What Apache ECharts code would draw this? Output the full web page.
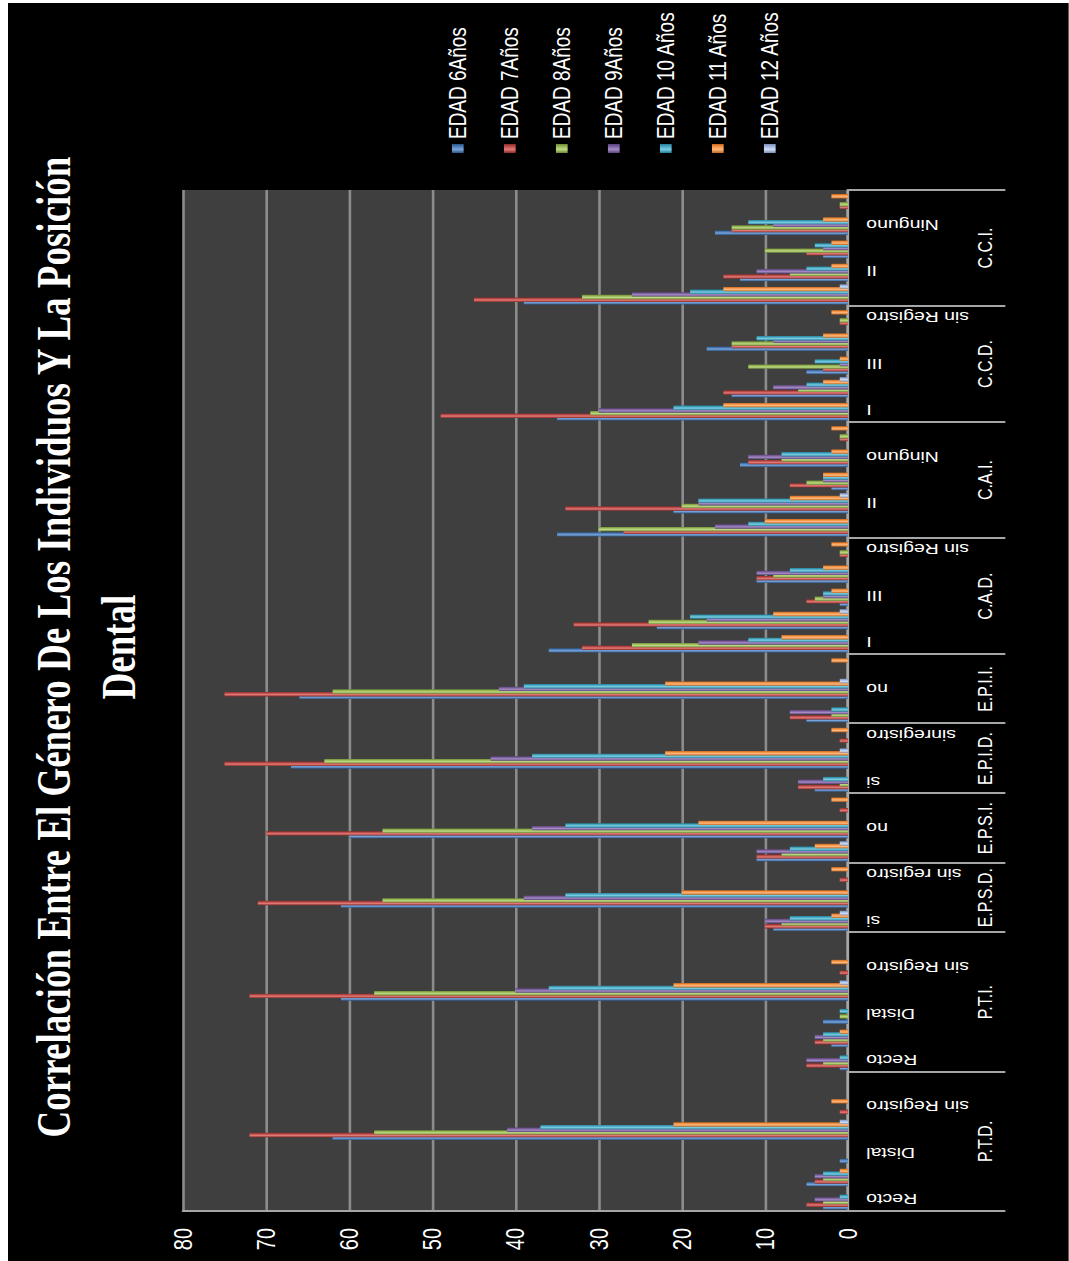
<!DOCTYPE html>
<html><head><meta charset="utf-8">
<script src="https://cdn.jsdelivr.net/npm/echarts@6/dist/echarts.min.js"></script>
<style>
html,body{margin:0;padding:0;background:#fff;width:1069px;height:1261px;overflow:hidden;}
#chart{position:absolute;left:0;top:0;width:1258px;height:816px;transform-origin:0 0;transform:matrix(0,-1,1.3,0,8,1261);}
</style></head><body><div id="chart"></div>
<script>
// Inner categories (44), grouped
const categories = [
  'Recto','Mesial','Distal','Ninguno','sin Registro','Otro',
  'Recto','Mesial','Distal','Ninguno','sin Registro','Otro',
  'si','no','sin registro',
  'si','no','sin registro',
  'si','no','sinregistro',
  'si','no','sin registro',
  'I','II','III','Ninguno','sin Registro',
  'I','II','III','Ninguno','sin Registro',
  'I','II','III','Ninguno','sin Registro',
  'I','II','III','Ninguno','sin Registro'
];
const groups = ['P.T.D.','P.T.I.','E.P.S.D.','E.P.S.I.','E.P.I.D.','E.P.I.I.','C.A.D.','C.A.I.','C.C.D.','C.C.I.'];
const groupSizes = [6,6,3,3,3,3,5,5,5,5];
const seriesNames = ['EDAD 6Años','EDAD 7Años','EDAD 8Años','EDAD 9Años','EDAD 10 Años','EDAD 11 Años','EDAD 12 Años'];
const valueTicks = {min:0, max:80, interval:10};

const edad6  = [3,5,1,62,0,0, 1,2,3,61,0,0, 9,61,0, 11,60,0, 4,67,0, 5,66,0, 36,23,1,11,0, 35,21,2,13,0, 35,14,5,17,0, 39,13,3,16,0];
const edad7  = [5,4,0,72,1,0, 5,4,0,72,1,0, 10,71,1, 11,70,1, 6,75,1, 7,75,0, 32,33,5,11,1, 27,34,7,12,1, 49,15,3,14,1, 45,15,5,14,1];
const edad8  = [3,3,0,57,0,0, 3,3,1,57,0,0, 8,56,0, 8,56,0, 1,63,0, 2,62,0, 26,24,4,9,1, 30,20,5,8,1, 31,6,12,14,1, 32,7,10,14,1];
const edad9  = [4,4,0,41,0,0, 5,4,0,40,0,0, 10,39,0, 11,38,0, 6,43,0, 7,42,0, 18,17,3,11,0, 16,18,3,12,0, 30,9,1,9,0, 26,11,3,9,0];
const edad10 = [1,3,0,37,0,0, 1,3,1,36,0,0, 7,34,0, 7,34,0, 3,38,0, 2,39,0, 12,19,3,7,0, 12,18,3,8,0, 21,5,4,11,0, 19,5,4,12,0];
const edad11 = [0,1,0,21,2,0, 0,1,0,21,2,0, 2,20,2, 4,18,2, 0,22,2, 0,22,2, 8,9,2,3,2, 10,7,3,2,2, 15,3,1,3,2, 15,2,2,3,2];
const edad12 = [0,0,0,1,0,0, 0,0,0,1,0,0, 1,0,0, 1,0,0, 0,1,0, 0,1,0, 0,1,0,0,0, 0,1,0,0,0, 0,1,0,0,0, 1,0,0,0,0];
const seriesData = [edad6, edad7, edad8, edad9, edad10, edad11, edad12];

const palette = [
  ['#2c5486','#7aa3d6','#4f81bd'],
  ['#8c2b28','#e07a77','#c0504d'],
  ['#6e8a33','#bcd884','#9bbb59'],
  ['#5b4279','#a48cc3','#8064a2'],
  ['#23809a','#7acbe0','#4bacc6'],
  ['#c4661c','#fbb77e','#f79646'],
  ['#7b8fb8','#cfdcf2','#a5b8e0']
];

// outer (group) axis built from groups: half-step positions
const boundaries = new Set(), centers = new Map();
let start = 0; boundaries.add(0);
groups.forEach((g,i)=>{ centers.set(2*start+groupSizes[i], g); start += groupSizes[i]; boundaries.add(2*start); });
const outerData = [];
for (let k=0;k<=2*start;k++) outerData.push(centers.has(k) ? centers.get(k) : '#' + k);

const chart = echarts.init(document.getElementById('chart'), null, {renderer:'svg'});
chart.setOption({
  animation:false,
  backgroundColor:'#000',
  title:{
    text:'Correlación Entre El Género De Los Individuos Y La Posición\nDental',
    left:614, top:10, padding:0, textAlign:'center',
    textStyle:{color:'#fff', fontFamily:'Liberation Serif', fontWeight:'bold', fontSize:37, lineHeight:50}
  },
  legend:{
    orient:'vertical', left:1103, top:331, itemWidth:9, itemHeight:9, itemGap:20, icon:'rect',
    textStyle:{color:'#fff', fontSize:19, fontFamily:'Liberation Sans', lineHeight:20},
    data:seriesNames
  },
  grid:{left:50, right:187, top:134.6, bottom:169.8, show:true, backgroundColor:'#3f3f3f', borderWidth:0},
  xAxis:[
    {type:'category', data:categories, position:'bottom', offset:0,
     axisLine:{show:true, lineStyle:{color:'#a6a6a6', width:2}},
     axisTick:{show:false},
     axisLabel:{interval:1, rotate:90, margin:14, color:'#fff', fontSize:15, fontFamily:'Liberation Sans'}},
    {type:'category', data:outerData, boundaryGap:false, position:'bottom', offset:0,
     axisLine:{show:false},
     axisTick:{show:true, length:121, interval:(i)=>boundaries.has(i), lineStyle:{color:'#a6a6a6', width:2}},
     axisLabel:{interval:(i)=>centers.has(i), margin:97, color:'#fff', fontSize:16, fontFamily:'Liberation Sans',
       formatter:(v)=>v.charAt(0)==='#' ? '' : v}}
  ],
  yAxis:{type:'value', min:valueTicks.min, max:valueTicks.max, interval:valueTicks.interval,
    axisLine:{show:true, lineStyle:{color:'#a6a6a6', width:2}},
    axisTick:{show:false},
    splitLine:{lineStyle:{color:'#8c8c8c', width:2}},
    axisLabel:{color:'#fff', fontSize:20, margin:17, fontFamily:'Liberation Sans'}},
  series:seriesNames.map((n,i)=>({
    name:n, type:'bar', xAxisIndex:0, data:seriesData[i], barWidth:4.4, barGap:'-40%',
    itemStyle:{color:new echarts.graphic.LinearGradient(0,0,1,0,[
      {offset:0,color:palette[i][0]},{offset:0.4,color:palette[i][1]},{offset:0.7,color:palette[i][2]},{offset:1,color:palette[i][0]}])}
  }))
});
</script></body></html>
